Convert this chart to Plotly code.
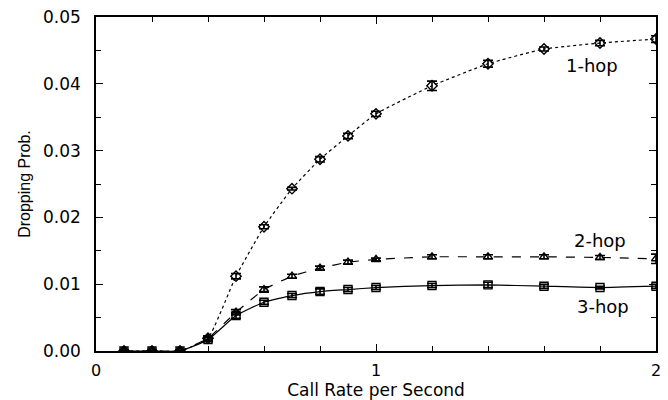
import plotly.graph_objects as go

call_rate = [0.1, 0.2, 0.3, 0.4, 0.5, 0.6, 0.7, 0.8, 0.9, 1.0, 1.2, 1.4, 1.6, 1.8, 2.0]

hop1 = [0.0, 0.0, 0.0, 0.0019, 0.0112, 0.0186, 0.0243, 0.0287, 0.0322, 0.0355, 0.0397, 0.0430, 0.0452, 0.0461, 0.0467]
hop1_err = [0.0001, 0.0001, 0.0001, 0.0003, 0.0004, 0.0003, 0.0002, 0.0004, 0.0004, 0.0004, 0.0007, 0.0005, 0.0003, 0.0004, 0.0005]

hop2 = [0.0, 0.0, 0.0, 0.0019, 0.0058, 0.0092, 0.0112, 0.0124, 0.0133, 0.0137, 0.0141, 0.0141, 0.0141, 0.0140, 0.0138]
hop2_err = [0.0001, 0.0001, 0.0001, 0.0003, 0.0004, 0.0004, 0.0003, 0.0003, 0.0003, 0.0002, 0.0003, 0.0003, 0.0003, 0.0003, 0.0007]

hop3 = [0.0, 0.0, 0.0, 0.0017, 0.0053, 0.0073, 0.0083, 0.0089, 0.0092, 0.0095, 0.0098, 0.0099, 0.0097, 0.0095, 0.0097]
hop3_err = [0.0001, 0.0001, 0.0001, 0.0003, 0.0004, 0.0003, 0.0003, 0.0004, 0.0003, 0.0003, 0.0003, 0.0004, 0.0003, 0.0002, 0.0003]

labels = ["1-hop", "2-hop", "3-hop"]
label_x = [1.77, 1.80, 1.81]
label_y = [0.0428, 0.0165, 0.0066]

x_ticks = [0, 1, 2]
y_ticks = [0.0, 0.01, 0.02, 0.03, 0.04, 0.05]

FONT = "DejaVu Sans, Liberation Sans, sans-serif"
TITLE_FONT = "Liberation Sans, Arial, sans-serif"

series = [
    (hop1, hop1_err, "dot", "diamond-open"),
    (hop2, hop2_err, "dash", "triangle-up-open"),
    (hop3, hop3_err, "solid", "square-open"),
]

fig = go.Figure()
for (vals, errs, dash, sym), name in zip(series, labels):
    fig.add_trace(go.Scatter(
        x=call_rate, y=vals, name=name, mode="lines+markers",
        line=dict(color="black", width=1.2, dash=dash, shape="spline", smoothing=0.4),
        marker=dict(symbol=sym, size=8, color="black", line=dict(width=1.4, color="black")),
        error_y=dict(type="data", array=errs, visible=True, color="black", thickness=1.6, width=5),
        showlegend=False,
    ))

for t, xx, yy in zip(labels, label_x, label_y):
    fig.add_annotation(x=xx, y=yy, text=t, showarrow=False,
                       font=dict(family=FONT, size=18, color="black"))

fig.update_layout(
    width=668, height=400,
    margin=dict(l=96, r=7, t=15, b=43),
    paper_bgcolor="white", plot_bgcolor="white",
    font=dict(family=FONT, size=17, color="black"),
)
fig.update_xaxes(
    range=[0, 2], tickvals=x_ticks, ticktext=[str(v) for v in x_ticks],
    ticks="inside", ticklen=7, tickwidth=1.2, tickcolor="black",
    minor=dict(dtick=0.2, tick0=0, ticks="inside", ticklen=5, tickwidth=1, tickcolor="black"),
    showline=True, linecolor="black", linewidth=1.5, mirror="ticks",
    showgrid=False, zeroline=False, ticklabelstandoff=4,
    title=dict(text="Call Rate per Second", font=dict(family=FONT, size=17), standoff=1),
    tickfont=dict(family=FONT, size=16),
)
fig.update_yaxes(
    range=[0, 0.05], tickvals=y_ticks, ticktext=[f"{v:.2f}" for v in y_ticks],
    ticks="inside", ticklen=7, tickwidth=1.2, tickcolor="black",
    minor=dict(dtick=0.005, tick0=0, ticks="inside", ticklen=5, tickwidth=1, tickcolor="black"),
    showline=True, linecolor="black", linewidth=1.5, mirror="ticks",
    showgrid=False, zeroline=False, ticklabelstandoff=10,
    title=dict(text="Dropping Prob.", font=dict(family=TITLE_FONT, size=16), standoff=8),
    tickfont=dict(family=FONT, size=17),
)

fig.write_html(
    "out.html",
    config={"displayModeBar": False, "responsive": False},
    post_script="document.documentElement.style.margin='0px';document.body.style.margin='0px';document.body.style.overflow='hidden';",
)
